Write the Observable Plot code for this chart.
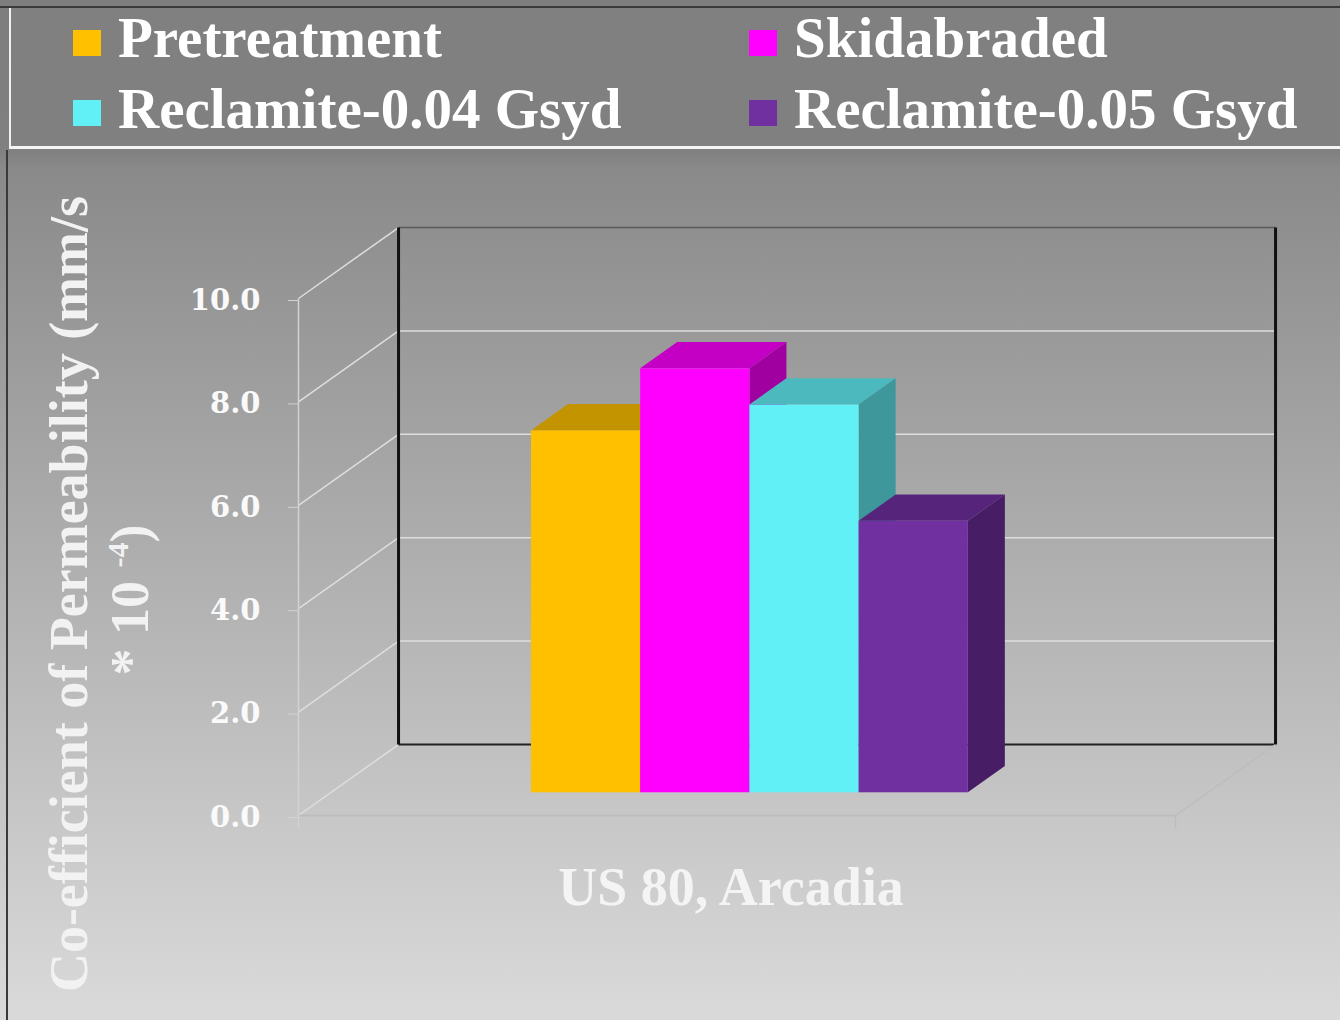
<!DOCTYPE html>
<html>
<head>
<meta charset="utf-8">
<script src="https://cdn.jsdelivr.net/npm/d3@7"></script>
<script src="https://cdn.jsdelivr.net/npm/@observablehq/plot@0.6"></script>
<style>
  html, body { margin: 0; padding: 0; }
  body {
    width: 1340px; height: 1020px; position: relative; overflow: hidden;
    background: linear-gradient(to bottom, #7e7e7e 0px, #808080 150px, #8a8a8a 170px, #dadada 1020px);
  }
  #frameTop { position: absolute; left: 0; top: 6px; width: 1340px; height: 2px; background: #3a3a3a; }
  #box { position: absolute; left: 9px; top: 8px; width: 1340px; height: 138px;
         border-left: 2px solid #f0f0f0; border-bottom: 3px solid #f4f4f4; background: #808080; }
  #frameLeft { position: absolute; left: 6px; top: 150px; width: 2px; height: 870px; background: #3a3a3a; }
  .item { position: absolute; font-family: "Liberation Serif"; font-weight: bold; font-size: 57px;
          color: #ffffff; line-height: 57px; white-space: nowrap; }
  .sw { position: absolute; width: 28px; height: 26px; }
  #chart { position: absolute; left: 0; top: 150px; }
</style>
</head>
<body>
<div id="frameTop"></div>
<div id="box"></div>
<div id="frameLeft"></div>
<div id="legend"></div>
<div id="chart"></div>
<script>
// ---- data ----
const series = ["Pretreatment", "Skidabraded", "Reclamite-0.04 Gsyd", "Reclamite-0.05 Gsyd"];
const values = [7.0, 8.2, 7.5, 5.25];
const category = "US 80, Arcadia";
const yTicks = [0, 2, 4, 6, 8, 10];
const yTitleLine1 = "Co-efficient of Permeability (mm/s";
const yTitleLine2 = "* 10 ";
const yTitleExp = "-4";
const yTitleEnd = ")";

// ---- styles ----
const colors = ["#FFC000", "#FF00FF", "#61F0F6", "#7030A0"];
const shade = (c, k) => { const r = d3.rgb(c); return d3.rgb(r.r * k, r.g * k, r.b * k).formatHex(); };

// ---- oblique 3D projection (x in bar-width units, y in value units) ----
const DX = 0.916, DY = 1.373;   // full-depth offset
const X0 = -1.84, X1 = 6.19;    // floor extent
const D0 = 0.32, D1 = 0.69;     // depth range of the bars

// ---- legend ----
const legend = d3.select("#legend");
series.forEach((s, i) => {
  const col = i % 2, row = Math.floor(i / 2);
  const sx = [73, 749][col], sy = [30, 100][row], ty = [9, 80][row];
  legend.append("div").attr("class", "sw")
    .style("left", sx + "px").style("top", sy + "px").style("background", colors[i]);
  legend.append("div").attr("class", "item")
    .style("left", (sx + 45) + "px").style("top", ty + "px").text(s);
});

// ---- bars ----
const bars = series.map((s, i) => ({ s, i, v: values[i], c: colors[i] }));
const barMarks = bars.flatMap(b => {
  const top = [D0, D1].map(d => ({ y: b.v + d * DY, x1: b.i + d * DX, x2: b.i + 1 + d * DX }));
  const side = [D0, D1].map(d => ({ x: b.i + 1 + d * DX, y1: d * DY, y2: b.v + d * DY }));
  return [
    Plot.areaX(top, { y: "y", x1: "x1", x2: "x2", fill: shade(b.c, 0.77) }),
    Plot.areaY(side, { x: "x", y1: "y1", y2: "y2", fill: shade(b.c, 0.63) }),
    Plot.rect([b], { x1: d => d.i + D0 * DX, x2: d => d.i + 1 + D0 * DX, y1: D0 * DY, y2: d => d.v + D0 * DY, fill: b.c })
  ];
});

const gridInner = yTicks.filter(v => v > 0 && v < 10);
const gridTop = yTicks.filter(v => v === 10);

const chart = Plot.plot({
  width: 1340, height: 870,
  marginLeft: 298, marginRight: 165, marginTop: 148, marginBottom: 205,
  style: { background: "transparent", overflow: "visible" },
  x: { domain: [X0, X1], axis: null },
  y: { domain: [0, 10], axis: null },
  marks: [
    // side wall gridlines
    Plot.link(yTicks, { x1: X0, y1: v => v, x2: X0 + DX, y2: v => v + DY, stroke: "#dedede", strokeWidth: 1.5 }),
    // back wall gridlines
    Plot.link(gridInner, { x1: X0 + DX, x2: X1 + DX, y1: v => v + DY, y2: v => v + DY, stroke: "#dedede", strokeWidth: 1.5 }),
    Plot.link(gridTop, { x1: X0 + DX, x2: X1 + DX, y1: v => v + DY, y2: v => v + DY, stroke: "#5a5a5a", strokeWidth: 1.5 }),
    // back wall bottom
    Plot.link([0], { x1: X0 + DX, x2: X1 + DX, y1: v => v + DY, y2: v => v + DY, stroke: "#222", strokeWidth: 2 }),
    // back wall verticals
    Plot.link([X0 + DX, X1 + DX], { x1: d => d, x2: d => d, y1: DY, y2: 10 + DY, stroke: "#111", strokeWidth: 3 }),
    // floor
    Plot.link([0], { x1: X0, x2: X1, y1: 0, y2: 0, stroke: "#bdbdbd", strokeWidth: 2 }),
    Plot.link([0], { x1: X1, x2: X1 + DX, y1: 0, y2: DY, stroke: "#bdbdbd", strokeWidth: 1.5 }),
    Plot.link([X0, X1], { x1: d => d, x2: d => d, y1: 0, y2: -0.25, stroke: "#bdbdbd", strokeWidth: 1.5 }),
    // front y axis line
    Plot.link([0], { x1: X0, x2: X0, y1: -0.25, y2: 10, stroke: "#d2d2d2", strokeWidth: 1.5 }),
    Plot.axisY(yTicks, {
      anchor: "left", tickSize: 10, tickPadding: 28, tickFormat: d3.format(".1f"),
      stroke: "#d2d2d2", fill: "#fafafa", fontSize: 29, fontFamily: "DejaVu Serif",
      fontWeight: "bold", label: null, dy: 2
    }),
    ...barMarks,
    Plot.text([category], {
      text: d => d, frameAnchor: "bottom", lineAnchor: "middle", dy: 72, dx: -6,
      fontSize: 54, fontFamily: "Liberation Serif", fontWeight: "bold", fill: "#f4f4f4"
    })
  ]
});
document.getElementById("chart").appendChild(chart);

// ---- rotated y-axis title ----
const svg = d3.select(chart);
svg.append("text")
  .attr("transform", "translate(87,444) rotate(-90)")
  .attr("text-anchor", "middle")
  .attr("font-family", "Liberation Serif").attr("font-weight", "bold")
  .attr("font-size", 54).attr("fill", "#f2f2f2")
  .text(yTitleLine1);
const t2 = svg.append("text")
  .attr("transform", "translate(148,450) rotate(-90)")
  .attr("text-anchor", "middle")
  .attr("font-family", "Liberation Serif").attr("font-weight", "bold")
  .attr("font-size", 54).attr("fill", "#f2f2f2");
t2.append("tspan").text(yTitleLine2);
t2.append("tspan").attr("font-size", 30).attr("dy", -20).text(yTitleExp);
t2.append("tspan").attr("dy", 20).text(yTitleEnd);
</script>
</body>
</html>
